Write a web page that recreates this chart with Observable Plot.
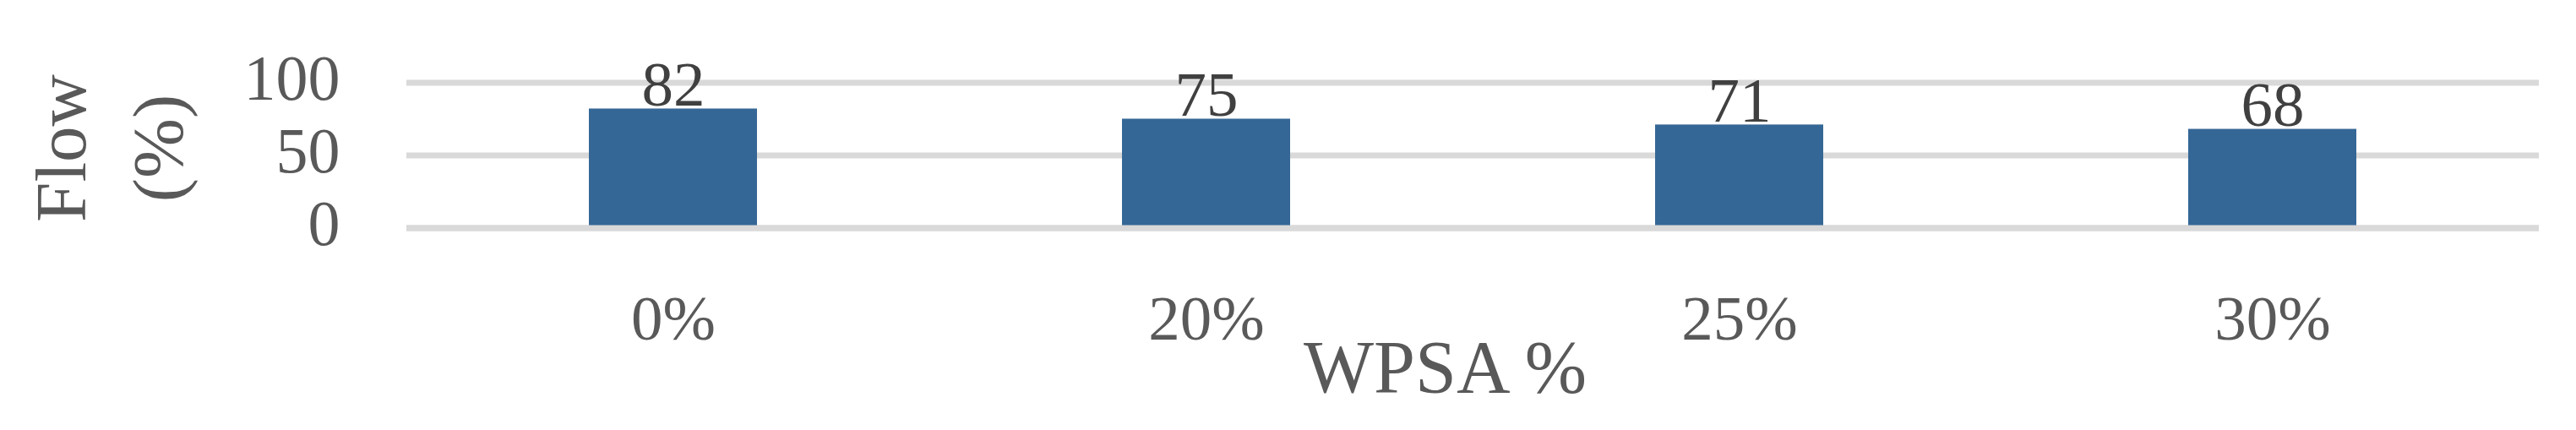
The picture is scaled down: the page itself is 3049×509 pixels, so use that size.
<!DOCTYPE html>
<html>
<head>
<meta charset="utf-8">
<script src="https://cdn.jsdelivr.net/npm/d3@7"></script>
<script src="https://cdn.jsdelivr.net/npm/@observablehq/plot@0.6"></script>
<style>
  html, body { margin: 0; padding: 0; background: #ffffff; overflow: hidden; }
  #chart svg { display: block; }
</style>
</head>
<body>
<div id="chart"></div>
<script>
// ---- data ----
const categories = ["0%", "20%", "25%", "30%"];
const flowValues = [82, 75, 71, 68];
const yTicks = [0, 50, 100];
const xTitle = "WPSA %";
const yTitle = "Flow\n(%)";

const rows = categories.map((c, i) => ({category: c, flow: flowValues[i]}));

const font = "'Liberation Serif', 'Times New Roman', serif";

const chart = Plot.plot({
  width: 3049,
  height: 509,
  marginLeft: 481,
  marginRight: 44,
  marginTop: 97.5,
  marginBottom: 239.5,
  style: {fontFamily: font, fontSize: "75px", color: "#595959", background: "#ffffff"},
  x: {domain: categories, paddingInner: 0.685, paddingOuter: 0.3425, label: null},
  y: {domain: [0, 100], label: null},
  marks: [
    Plot.ruleY(yTicks, {stroke: "#d9d9d9", strokeWidth: 7}),
    Plot.barY(rows, {x: "category", y: "flow", fill: "#356796"}),
    Plot.ruleY([0], {stroke: "#d9d9d9", strokeWidth: 7}),
    Plot.text(rows, {
      x: "category", y: "flow", text: d => String(d.flow),
      lineAnchor: "bottom", dy: -4, fill: "#404040",
      fontSize: 75, fontFamily: font
    }),
    Plot.axisY({
      ticks: yTicks, tickSize: 0, tickPadding: 79, dy: -4,
      fontSize: 76, fill: "#595959", label: null
    }),
    Plot.axisX({
      tickSize: 0, tickPadding: 79, fontSize: 75, fill: "#595959", label: null
    }),
    Plot.text([xTitle], {
      frameAnchor: "bottom", textAnchor: "middle", lineAnchor: "bottom", dx: -33, dy: 193.5,
      fontSize: 88, fill: "#595959", fontFamily: font
    }),
    Plot.text([yTitle], {
      frameAnchor: "left", textAnchor: "middle", rotate: -90, lineAnchor: "middle", lineHeight: 1.36,
      dx: -360, dy: -8.5, fontSize: 85, fill: "#595959", fontFamily: font
    })
  ]
});

document.getElementById("chart").appendChild(chart);
</script>
</body>
</html>
